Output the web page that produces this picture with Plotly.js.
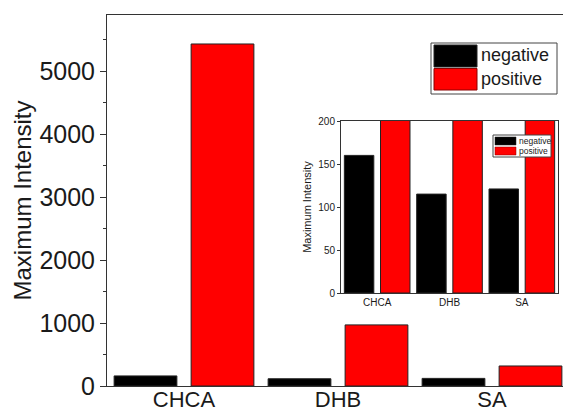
<!DOCTYPE html>
<html>
<head>
<meta charset="utf-8">
<script src="https://cdn.plot.ly/plotly-3.0.1.min.js"></script>
<style>
html,body{margin:0;padding:0;overflow:hidden;background:#fff;}
#chart{width:575px;height:414px;}
</style>
</head>
<body>
<div id="chart"></div>
<script>
// ---- data ----
const categories = ['CHCA', 'DHB', 'SA'];
const negativeValues = [160, 115, 121];
const positiveValues = [5430, 970, 318];
const seriesNames = ['negative', 'positive'];
const seriesColors = ['#000000', '#ff0000'];
const mainYTicks = [0, 1000, 2000, 3000, 4000, 5000];
const insetYTicks = [0, 50, 100, 150, 200];

// ---- layout helpers (pixel -> paper) ----
const L = 107, R = 569, T = 15, B = 386;
const px = x => (x - L) / (R - L);
const py = y => (B - y) / (B - T);

const FONT = 'Liberation Sans, Arial, sans-serif';
const TXT = '#1a1a1a';
const barLine = {color: '#222', width: 1};

const traces = [
  {type: 'bar', name: seriesNames[0], x: categories, y: negativeValues, showlegend: false,
   marker: {color: seriesColors[0], line: barLine}, xaxis: 'x', yaxis: 'y'},
  {type: 'bar', name: seriesNames[1], x: categories, y: positiveValues, showlegend: false,
   marker: {color: seriesColors[1], line: barLine}, xaxis: 'x', yaxis: 'y'},
  {type: 'bar', name: seriesNames[0], x: categories, y: negativeValues, showlegend: false,
   marker: {color: seriesColors[0], line: barLine}, xaxis: 'x2', yaxis: 'y2'},
  {type: 'bar', name: seriesNames[1], x: categories, y: positiveValues, showlegend: false,
   marker: {color: seriesColors[1], line: barLine}, xaxis: 'x2', yaxis: 'y2'}
];

const ix0 = 341, ix1 = 558, iy0 = 121, iy1 = 293;

// legend boxes drawn as paper shapes + text annotations
function legendBox(box, sw, textX, rowsY, fontSize, lw) {
  const shapes = [{type: 'rect', xref: 'paper', yref: 'paper',
    x0: px(box[0]), x1: px(box[2]), y0: py(box[3]), y1: py(box[1]),
    line: {color: '#444', width: 1}, fillcolor: '#fff', layer: 'above'}];
  const anns = [];
  seriesNames.forEach((n, i) => {
    shapes.push({type: 'rect', xref: 'paper', yref: 'paper',
      x0: px(sw[0]), x1: px(sw[1]), y0: py(sw[2 + 2 * i + 1]), y1: py(sw[2 + 2 * i]),
      line: {color: i === 0 ? '#222' : '#8b0000', width: lw}, fillcolor: seriesColors[i], layer: 'above'});
    anns.push({xref: 'paper', yref: 'paper', x: px(textX), y: py(rowsY[i]),
      xanchor: 'left', yanchor: 'middle', text: n, showarrow: false,
      font: {size: fontSize, family: FONT, color: TXT}});
  });
  return {shapes, anns};
}
const mainLeg = legendBox([431, 43, 557, 94], [434, 477, 45, 67, 68.5, 90], 478.5, [55, 79], 18, 1);
const insetLeg = legendBox([493, 135, 551, 157], [495, 516, 137, 145, 147, 155], 516.5, [141, 151], 8.5, 0.5);

const layout = {
  width: 575, height: 414,
  margin: {l: L, r: 575 - R, t: T, b: 414 - B},
  paper_bgcolor: '#fff', plot_bgcolor: 'rgba(0,0,0,0)',
  font: {family: FONT, color: TXT},
  barmode: 'group', bargap: 0, bargroupgap: 0.185,
  showlegend: false,
  xaxis: {domain: [0, 1], anchor: 'y', type: 'category', range: [-0.5, 2.5],
    showline: true, linecolor: '#333', linewidth: 1, mirror: true, ticks: '',
    ticklabelstandoff: -6,
    tickfont: {size: 22, family: FONT, color: TXT}, showgrid: false, zeroline: false},
  yaxis: {domain: [0, 1], anchor: 'x', range: [0, 5890], tickvals: mainYTicks,
    showline: true, linecolor: '#333', linewidth: 1, mirror: true,
    ticks: 'outside', ticklen: 6, tickcolor: '#333',
    minor: {dtick: 500, ticks: 'outside', ticklen: 3, tickcolor: '#333'},
    tickfont: {size: 25, family: FONT, color: TXT}, showgrid: false, zeroline: false,
    title: {text: 'Maximum Intensity', font: {size: 24, family: FONT, color: TXT}, standoff: 0}},
  xaxis2: {domain: [px(ix0), px(ix1)], anchor: 'y2', type: 'category', range: [-0.5, 2.5],
    showline: true, linecolor: '#333', linewidth: 1, mirror: true, ticks: '',
    tickfont: {size: 10, family: FONT, color: TXT}, showgrid: false, zeroline: false},
  yaxis2: {domain: [py(iy1), py(iy0)], anchor: 'x2', range: [0, 200], tickvals: insetYTicks,
    showline: true, linecolor: '#333', linewidth: 1, mirror: true,
    ticks: 'outside', ticklen: 3, tickcolor: '#333',
    tickfont: {size: 10, family: FONT, color: TXT}, showgrid: false, zeroline: false,
    title: {text: 'Maximum Intensity', font: {size: 11, family: FONT, color: TXT}, standoff: 4}},
  shapes: mainLeg.shapes.concat(insetLeg.shapes),
  annotations: mainLeg.anns.concat(insetLeg.anns)
};

Plotly.newPlot(document.getElementById('chart'), traces, layout, {displayModeBar: false, staticPlot: true});
</script>
</body>
</html>
